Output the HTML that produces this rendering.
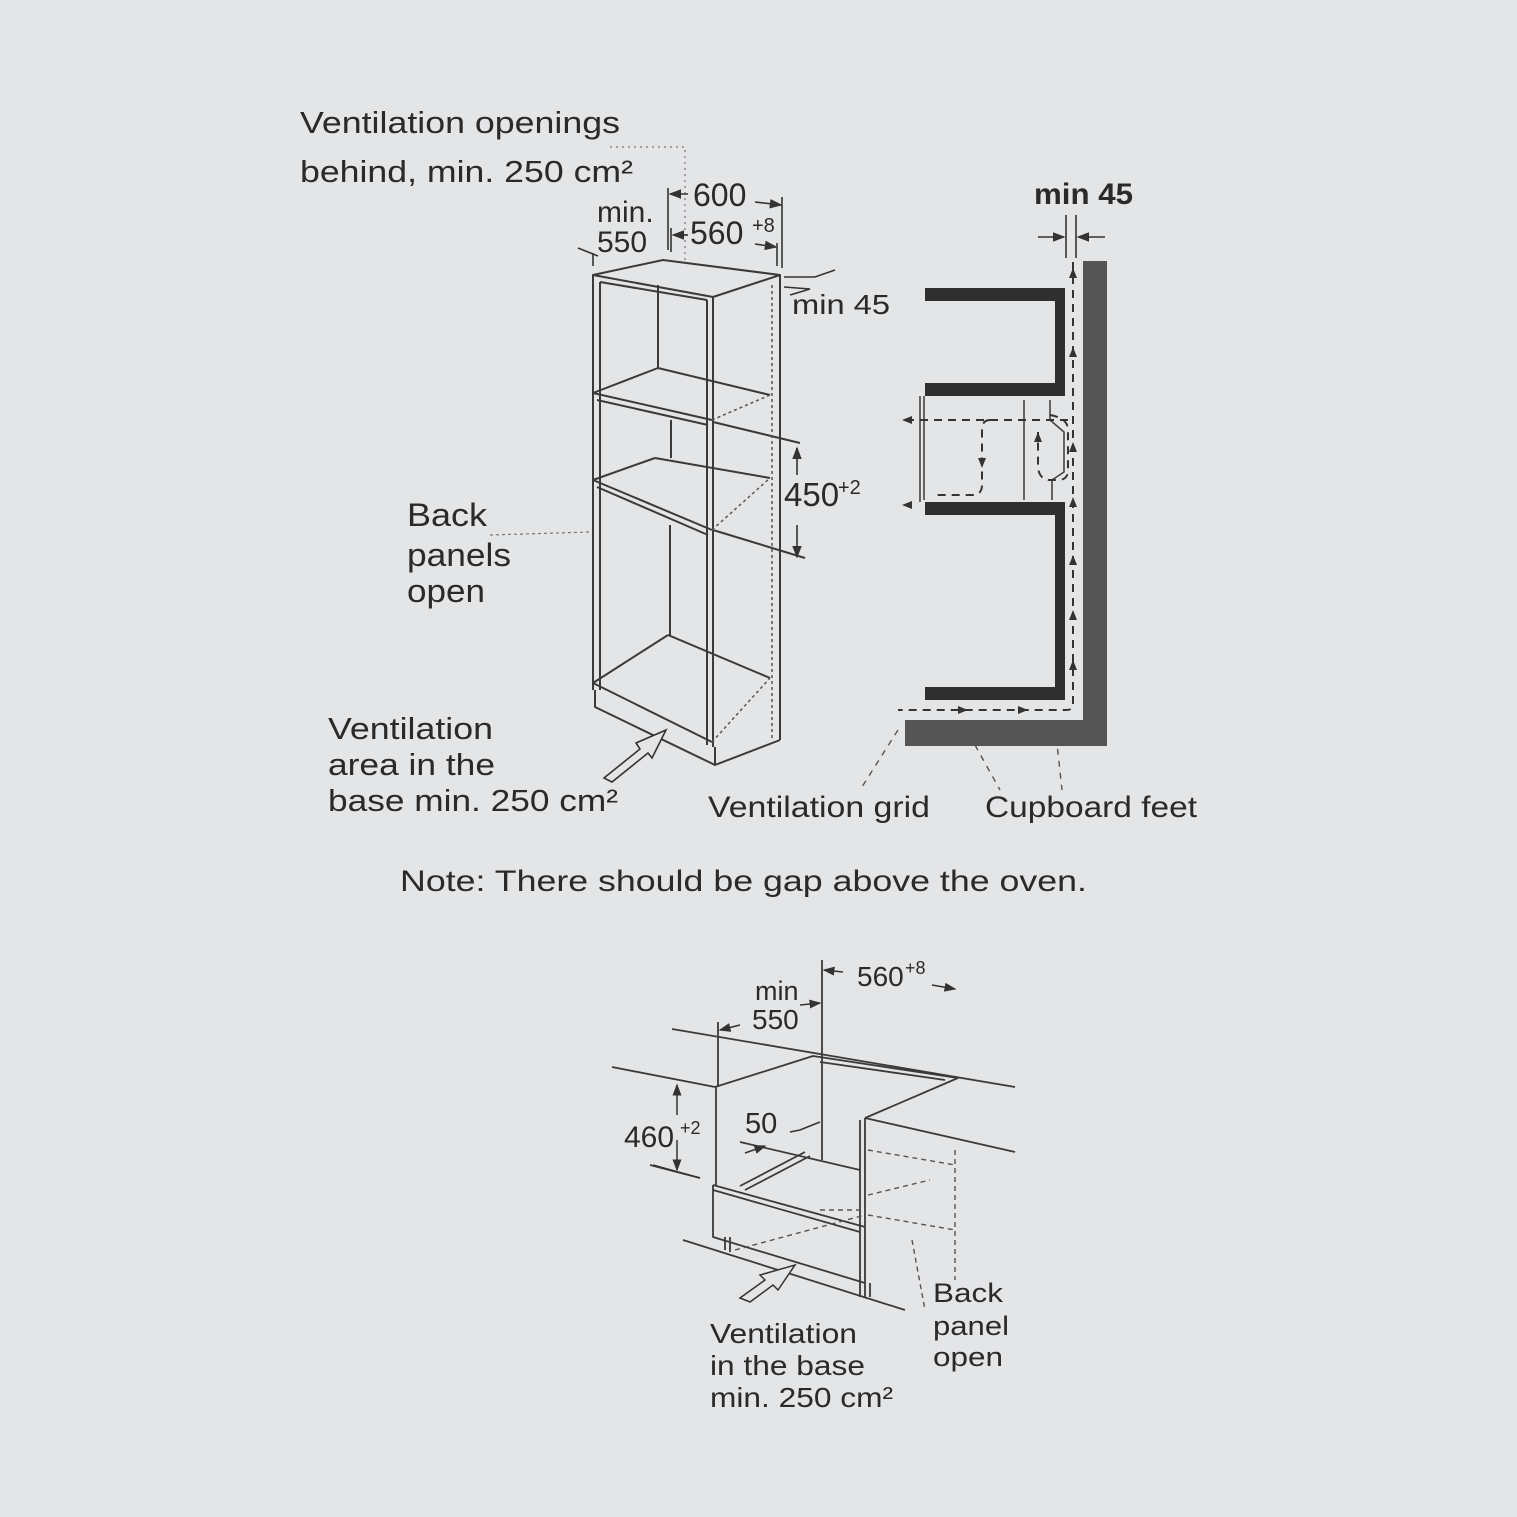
<!DOCTYPE html>
<html><head><meta charset="utf-8"><style>
html,body{margin:0;padding:0;background:#e4e5e7;}
svg{display:block}
text{font-family:"Liberation Sans",Arial,sans-serif;fill:#2a2a2a}
</style></head><body>
<svg width="1517" height="1517" viewBox="0 0 1517 1517" xmlns="http://www.w3.org/2000/svg">
<rect width="1517" height="1517" fill="#e4e5e7"/>
<defs>
<marker id="ah" markerWidth="8" markerHeight="8" refX="7" refY="4" orient="auto"><path d="M0,1 L8,4 L0,7 z" fill="#333"/></marker>
</defs>

<!-- TOP LEFT TEXT -->
<text x="300" y="133" font-size="31" textLength="320" lengthAdjust="spacingAndGlyphs">Ventilation openings</text>
<text x="300" y="182" font-size="31" textLength="333" lengthAdjust="spacingAndGlyphs">behind, min. 250 cm²</text>
<path d="M610,147 H685 V262" stroke="#777" stroke-width="1.2" stroke-dasharray="2,4" fill="none"/>

<!-- dimensions top -->
<g stroke="#333" stroke-width="1.6" fill="none">
<line x1="668" y1="188" x2="668" y2="250"/>
<line x1="671" y1="228" x2="671" y2="252"/>
<line x1="782" y1="197" x2="782" y2="268"/>
<line x1="777" y1="243" x2="777" y2="266"/>
<line x1="593" y1="253" x2="593" y2="266"/>
<line x1="688" y1="194" x2="670" y2="194" marker-end="url(#ah)"/>
<line x1="755" y1="202" x2="781" y2="205" marker-end="url(#ah)"/>
<line x1="688" y1="235" x2="673" y2="235" marker-end="url(#ah)"/>
<line x1="755" y1="244" x2="776" y2="247" marker-end="url(#ah)"/>
<line x1="578" y1="248" x2="598" y2="256"/>
<path d="M784,277 L815,277 L835,270"/>
<path d="M784,287 L810,289 L790,295"/>
</g>
<text x="693" y="206" font-size="32">600</text>
<text x="690" y="244" font-size="32">560</text>
<text x="752" y="232" font-size="20">+8</text>
<text x="597" y="222" font-size="30">min.</text>
<text x="597" y="252" font-size="30">550</text>
<text x="792" y="314" font-size="28" textLength="98" lengthAdjust="spacingAndGlyphs">min 45</text>

<!-- CABINET -->
<g stroke="#3a3a3a" stroke-width="2" fill="none" stroke-linejoin="round">
<path d="M593,275 L663,260 L780,275 L713,297 Z"/>
<path d="M593,275 V690 M600,282 V690 M713,297 V747 M707,300 V745 M780,275 V740"/>
<path d="M600,282 L707,300"/>
<path d="M593,393 L712,420 M597,400 L708,425 M658,368 L770,395"/>
<path d="M593,393 L658,368"/>
<path d="M593,480 L712,530 M597,487 L708,535 M655,458 L770,478 M593,480 L655,458"/>
<path d="M593,683 L712,742 M668,635 L770,678 M593,683 L668,635"/>
<path d="M658,285 V368 M671,420 V458 M670,525 V635"/>
<path d="M595,690 V707 L715,765 L780,740 M715,747 V765"/>
<path d="M713,422 L800,443 M713,530 L805,558"/>
</g>
<g stroke="#555" stroke-width="1.5" fill="none" stroke-dasharray="3,3">
<path d="M772,285 V740 M712,420 L770,395 M712,530 L770,478 M712,742 L770,678"/>
</g>
<!-- 450 dim -->
<g stroke="#333" stroke-width="1.6" fill="none">
<line x1="797" y1="475" x2="797" y2="448" marker-end="url(#ah)"/>
<line x1="797" y1="525" x2="797" y2="557" marker-end="url(#ah)"/>
</g>
<text x="784" y="506" font-size="33">450</text>
<text x="838" y="494" font-size="20">+2</text>

<!-- back panels label -->
<text x="407" y="526" font-size="32" textLength="80" lengthAdjust="spacingAndGlyphs">Back</text>
<text x="407" y="566" font-size="32" textLength="104" lengthAdjust="spacingAndGlyphs">panels</text>
<text x="407" y="602" font-size="32" textLength="78" lengthAdjust="spacingAndGlyphs">open</text>
<line x1="490" y1="535" x2="590" y2="532" stroke="#777" stroke-width="1.2" stroke-dasharray="3,3"/>

<!-- hollow arrow -->
<path d="M604,778 L640,749 L636,743 L666,730 L652,758 L648,753 L612,782 Z" fill="#e4e5e7" stroke="#333" stroke-width="1.6"/>
<text x="328" y="739" font-size="31" textLength="165" lengthAdjust="spacingAndGlyphs">Ventilation</text>
<text x="328" y="775" font-size="31" textLength="167" lengthAdjust="spacingAndGlyphs">area in the</text>
<text x="328" y="811" font-size="31" textLength="290" lengthAdjust="spacingAndGlyphs">base min. 250 cm²</text>

<!-- RIGHT SECTION -->
<text x="1034" y="204" font-size="30" font-weight="bold" textLength="99" lengthAdjust="spacingAndGlyphs" fill="#333">min 45</text>
<g stroke="#333" stroke-width="1.6" fill="none">
<line x1="1038" y1="237" x2="1064" y2="237" marker-end="url(#ah)"/>
<line x1="1105" y1="237" x2="1078" y2="237" marker-end="url(#ah)"/>
<line x1="1066" y1="215" x2="1066" y2="258"/>
<line x1="1076" y1="215" x2="1076" y2="258"/>
</g>
<rect x="1083" y="261" width="24" height="485" fill="#555"/>
<rect x="905" y="720" width="202" height="26" fill="#555"/>
<g fill="#2f2f2f">
<rect x="925" y="288" width="140" height="13"/>
<rect x="1055" y="288" width="10" height="107"/>
<rect x="925" y="383" width="140" height="13"/>
<rect x="925" y="502" width="140" height="13"/>
<rect x="1055" y="502" width="10" height="195"/>
<rect x="925" y="687" width="140" height="13"/>
</g>
<g stroke="#444" stroke-width="1.6" fill="none">
<path d="M924,396 V500 M920,396 V502 M1024,400 V500 M1050,400 V420 L1064,432 V472 L1052,480 V500"/>
</g>
<g stroke="#333" stroke-width="2" fill="none" stroke-dasharray="8,6">
<path d="M1073,262 V705 Q1073,710 1066,710 H898"/>
<path d="M1068,420 H910"/>
<path d="M990,420 Q982,420 982,430 V485 Q982,495 972,495 H935"/>
<path d="M1050,415 Q1068,418 1068,430 V470 Q1068,480 1058,480 H1048 Q1038,478 1038,465 V432"/>
</g>
<g fill="#333">
<path d="M902,420 l10,-4 v8 z"/><path d="M902,505 l10,-4 v8 z"/>
<path d="M1073,268 l-4,10 h8 z"/><path d="M1073,347 l-4,10 h8 z"/>
<path d="M1073,442 l-4,10 h8 z"/><path d="M1073,497 l-4,10 h8 z"/>
<path d="M1073,555 l-4,10 h8 z"/><path d="M1073,610 l-4,10 h8 z"/><path d="M1073,660 l-4,10 h8 z"/>
<path d="M1038,432 l-4,10 h8 z"/><path d="M982,468 l-4,-10 h8 z"/>
<path d="M968,710 l-10,-4 v8 z"/><path d="M1028,710 l-10,-4 v8 z"/>
</g>
<g stroke="#555" stroke-width="1.4" stroke-dasharray="6,6" fill="none">
<path d="M898,730 L860,790 M975,745 L1000,790 M1055,725 L1062,790"/>
</g>
<text x="708" y="817" font-size="30" textLength="222" lengthAdjust="spacingAndGlyphs">Ventilation grid</text>
<text x="985" y="817" font-size="30" textLength="212" lengthAdjust="spacingAndGlyphs">Cupboard feet</text>

<text x="400" y="891" font-size="30" textLength="687" lengthAdjust="spacingAndGlyphs">Note: There should be gap above the oven.</text>

<!-- BOTTOM DIAGRAM -->
<g stroke="#3a3a3a" stroke-width="1.8" fill="none" stroke-linejoin="round">
<path d="M672,1029 L1015,1087"/>
<path d="M612,1067 L715,1087"/>
<path d="M715,1087 L813,1056 L958,1078 L865,1118"/>
<path d="M820,1062 L945,1080"/>
<path d="M716,1087 V1185 M865,1118 V1297 M860,1120 V1297"/>
<path d="M865,1118 L1015,1152"/>
<path d="M650,1165 L700,1178"/>
<path d="M713,1185 L865,1227 M713,1190 L860,1232 M713,1185 V1237 L865,1283"/>
<path d="M683,1240 L905,1310"/>
<path d="M740,1142 L860,1170"/>
<path d="M740,1186 L805,1152 M745,1190 L810,1156"/>
<path d="M725,1237 V1250 M730,1237 V1252 M870,1283 V1297"/>
<path d="M822,960 V1160"/>
<path d="M718,1022 V1087"/>
</g>
<g stroke="#555" stroke-width="1.4" stroke-dasharray="5,4" fill="none">
<path d="M735,1250 L865,1215 M868,1150 L955,1165 M868,1215 L955,1230 M955,1150 V1280 M868,1195 L930,1180 M820,1210 L860,1210 M912,1240 L925,1310"/>
</g>
<g stroke="#333" stroke-width="1.5" fill="none">
<line x1="843" y1="972" x2="824" y2="970" marker-end="url(#ah)"/>
<line x1="932" y1="985" x2="955" y2="989" marker-end="url(#ah)"/>
<line x1="800" y1="1005" x2="820" y2="1003" marker-end="url(#ah)"/>
<line x1="740" y1="1025" x2="720" y2="1030" marker-end="url(#ah)"/>
<line x1="677" y1="1115" x2="677" y2="1085" marker-end="url(#ah)"/>
<line x1="677" y1="1140" x2="677" y2="1170" marker-end="url(#ah)"/>
<path d="M653,1165 L700,1178"/>
<line x1="745" y1="1153" x2="765" y2="1146" marker-end="url(#ah)"/>
<path d="M790,1132 L800,1130 L820,1122"/>
</g>
<path d="M740,1298 L765,1280 L760,1275 L795,1265 L778,1290 L773,1285 L750,1302 Z" fill="#e4e5e7" stroke="#333" stroke-width="1.5"/>
<text x="857" y="986" font-size="28">560</text>
<text x="905" y="974" font-size="18">+8</text>
<text x="755" y="1000" font-size="27">min</text>
<text x="752" y="1029" font-size="28">550</text>
<text x="624" y="1147" font-size="30">460</text>
<text x="680" y="1134" font-size="18">+2</text>
<text x="745" y="1133" font-size="29">50</text>
<text x="933" y="1302" font-size="27" textLength="70" lengthAdjust="spacingAndGlyphs">Back</text>
<text x="933" y="1335" font-size="27" textLength="76" lengthAdjust="spacingAndGlyphs">panel</text>
<text x="933" y="1366" font-size="27" textLength="70" lengthAdjust="spacingAndGlyphs">open</text>
<text x="710" y="1343" font-size="28" textLength="147" lengthAdjust="spacingAndGlyphs">Ventilation</text>
<text x="710" y="1375" font-size="28" textLength="155" lengthAdjust="spacingAndGlyphs">in the base</text>
<text x="710" y="1407" font-size="28" textLength="183" lengthAdjust="spacingAndGlyphs">min. 250 cm²</text>
</svg>
</body></html>
